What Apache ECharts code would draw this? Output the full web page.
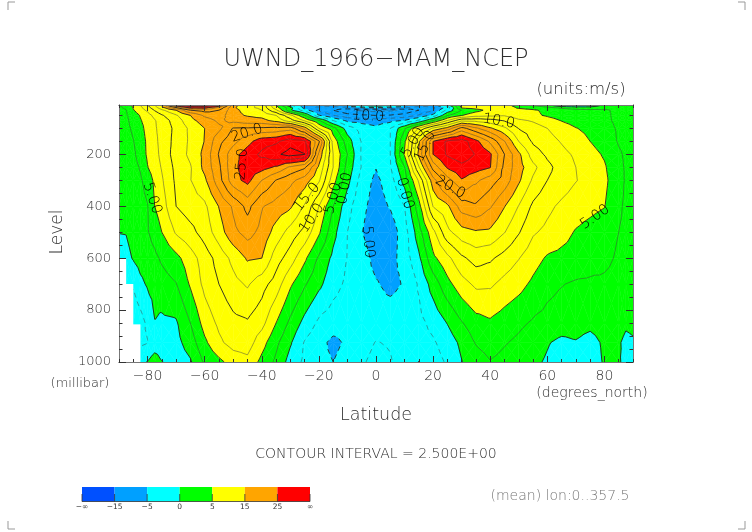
<!DOCTYPE html>
<html><head><meta charset="utf-8">
<style>html,body{margin:0;padding:0;background:#fff}#c{width:752px;height:532px}</style>
<script src="https://cdn.jsdelivr.net/npm/echarts@6/dist/echarts.min.js"></script>
</head><body><div id="c"></div>
<script>
const lats=[-90,-87.5,-85,-82.5,-80,-77.5,-75,-70,-65,-60,-55,-50,-45,-40,-35,-30,-25,-20,-15,-10,-5,0,5,10,15,20,25,30,35,40,45,50,55,60,65,70,75,80,85,87.5,90];
const levels=[1000,925,850,700,600,500,400,300,250,200,150,100,70,50,30,20,10];
const u1000=[-1,-1,-1,-0.5,0.1,1.5,0.1,-1.5,-0.3,2.9,4.4,6,6.8,4.3,2,-1,-3,-4.3,-5,-4,-2.8,-1.8,-2.3,-4,-5.05,-3.5,-2.2,-0.1,1.3,2.4,1.8,1.1,0.5,-0.3,-1.3,-1.3,-1.5,0.3,0.2,-0.5,-1];
const u925=[-3,-3,-3,-3,-2.6,-1.7,-1.5,-0.8,1.2,4.5,7,8.5,8.7,6,3.1,0.3,-2.7,-4.2,-5.6,-4.6,-3.4,-2.4,-2.7,-3.5,-3.5,-2.8,-1.4,0.6,2.7,3.5,2.7,2,1.1,0.2,-0.6,-0.2,-1.1,0.5,0.4,-0.9,-0.4];
const u850=[-3,-3,-4.5,-3.5,-2,-0.1,-0.5,-0.3,2.5,6,8,9.3,9.7,8.3,5,1.9,-0.8,-3,-3.8,-4.3,-4.2,-3.8,-3.7,-3.6,-3.2,-1.8,0.1,2.3,4,4.6,3.8,3,2.2,1.7,1.3,1.2,0.8,1.4,1.7,0.6,0.8];
const u700=[-2,-2.5,-2.2,-0.6,0.3,0.9,1.4,2.4,5.3,8.2,10,11.7,12.8,11,8.8,5.4,2.8,0.6,-1.6,-3,-4,-4.8,-5.6,-4.8,-2.2,1.1,4.2,6.5,8,7.9,6.7,5.8,4.5,3.2,2.6,2.2,2.1,2.1,1.8,1.6,1.6];
const u600=[-1,-0.8,0.2,1,1.4,1.9,2.9,4.3,6.4,8.7,11,13.2,15.3,15,11.2,8.7,5.5,2.1,-0.6,-2.6,-4,-5.7,-6,-3.8,-0.5,4.4,6.8,9.5,11,10.4,9,7.6,6,4.7,4.3,4,3.5,3,2.2,2,1.8];
const u500=[0.05,0.1,1,1.6,2.3,3.5,5,7.8,9.2,11.1,13.8,16.8,18.5,16.7,14,11.5,9.2,5.4,0.8,-2.5,-4.9,-6.5,-6.5,-3.6,1.4,6.8,11.8,14,14.7,14.5,12.6,10.2,7.8,6.9,5.9,4.8,4.1,3.4,2.5,2.2,2];
const u400=[0.8,1.1,1.4,1.7,2.4,5,6.3,10,11.3,12,15.1,17.9,20.8,17.7,16.5,15.4,12.2,7.5,2.5,-1.6,-4.4,-6,-4.8,-2.5,4,12.6,14.5,18.7,19.6,17.8,15.1,12.4,9.5,8.1,7,6.2,5.7,5.1,2.8,2.2,2];
const u300=[1,1.2,1.5,2.2,3.4,5.6,7.2,10.5,12.4,14.5,19,24,25.8,22.5,19.9,18.2,16.3,12.9,6,0.8,-3.6,-5.6,-3.7,1,7.9,16.5,21.5,24.8,23,21.2,18.9,15.4,12.1,10,8.8,7.6,6.7,5.6,3.2,2.3,2];
const u250=[1.2,1.4,1.7,2.7,4.9,6.3,7.7,10.7,12.3,15.7,19.5,24.4,26.2,26,24.6,22,20.4,14.5,7.5,1.6,-2.7,-4.9,-2.7,2.4,12.2,21,25.3,26.8,26.2,25.1,19.3,16,13.2,10.7,8.9,7.5,6.4,5.3,3,2.3,2];
const u200=[1.3,1.5,2,3.6,5.4,6.6,8.2,11.2,13,15.7,20.2,24,26.3,28,29.5,31,30.1,17,7.5,2.5,-2.8,-4.4,-2.5,5.3,15.7,25,27.9,29,27.3,25.4,20,15.5,11.3,9.5,8.2,7.1,5.9,4.7,2.8,2.2,2];
const u150=[1.2,1.5,2.4,3.7,5.5,6.9,8.3,10.9,12.9,15.1,19.3,21.7,24.1,26.5,27,29,28.2,20.5,6.5,1.2,-2.7,-4.2,-2.5,4.5,14.5,25,28,28.8,25.8,22,17.6,12.5,9.6,8.5,7.3,6.1,5,3.8,2.3,1.9,1.7];
const u100=[0.8,1.9,2.9,4.2,5.9,7.2,8.3,10.7,13,15,16.9,20.2,20.3,20.5,20.8,21.5,16.5,7.5,3.5,-1.2,-3.4,-4.4,-2.5,2.1,7.8,13,16,21,18,15.4,13,9.9,8.8,7.5,6.2,5.1,4.4,3.4,2.2,1.9,1.7];
const u70=[1.2,2,3.4,4.8,6,7.3,8.6,11.2,14.2,16.2,18,16.8,16,15.8,14.2,11.2,7.2,2.8,-2.5,-5.6,-6,-6.3,-5.7,-4.8,-2,2.6,7.6,12,11.8,11,9.8,8,7.2,6,4.9,4.1,3.6,3,2,1.7,1.5];
const u50=[1.5,2.2,3.6,5.2,6.5,8.2,9.7,12.2,15,18,19,15.6,14.8,14.2,12.5,8.2,2.8,-4.8,-7.5,-9,-9.6,-10,-9.8,-9,-7.2,-4.2,2.3,4.9,6.6,7,7.3,6,5.5,4.7,4,3.6,3.2,2.9,2,1.7,1.5];
const u30=[1.7,2.4,4.8,6.5,8,10.2,12,15,20,21,20,15.8,14,12.5,8,0.5,-3.7,-8.2,-10,-12,-13,-13.5,-13,-12,-10,-7.8,-1.7,2.6,4.2,5.8,6.8,6,5.3,4.5,3.6,3,2.8,2.7,2.2,1.8,1.5];
const u20=[2,3,5.2,7,9,11.5,14,20,26,26,22,15.5,13,12,6,1,-6,-8,-9,-8,-6,-5,-6,-7,-9,-8,-4,5.5,6,6.5,7,4.5,4,3,2,1.5,1.5,2,2,1.6,1.4];
const u10=[2.4,3.5,5.5,7.5,10,12.5,15.5,28,33,33,28,16,13,12,5,-2,-7,-6,-5,-4,1,3,1,-4,-5,-6,-1,6,6.5,6.5,6.5,3,2,0.5,-3,-4,-3.5,0.5,1.5,1.4,1.3];
const rows=[u1000,u925,u850,u700,u600,u500,u400,u300,u250,u200,u150,u100,u70,u50,u30,u20,u10];

const bandEdges=[-Infinity,-15,-5,0,5,15,25,Infinity];
const bandColors=['#0050ff','#00a0ff','#00ffff','#00ff00','#ffff00','#ffa500','#ff0000'];
const contourLevels=[-15,-12.5,-10,-7.5,-5,-2.5,0,2.5,5,7.5,10,12.5,15,17.5,20,22.5,25,27.5,30];
const legendLabels=['\u2212\u221e','\u221215','\u22125','0','5','15','25','\u221e'];

const missingLat=[-87.5,-85,-82.5];
const missingTop=[600,700,855];

const labelText=['5.00','20.0','25.0','15.0','10.0','5.00','0.00','5.00','10.0','5.00','15.0','10.0','20.0','0.00','5.00'];
const labelLat=[-78.4,-45.2,-47,-24.2,-22.4,-15,-10.9,-2.8,-2.8,13,17.2,43,26,10.1,76.7];
const labelLev=[369,119,238,365,446,369,331,538,54,154,169,73,327,350,442];
const labelRot=[-72,18,85,50,55,75,80,-85,-3,60,65,-10,-30,-75,35];

const xLabels=[-80,-60,-40,-20,0,20,40,60,80];
const yLabels=[200,400,600,800,1000];
const xMinor=[];for(let i=-18;i<=18;i++)xMinor.push(i*5);
const yMinor=[];for(let i=1;i<=20;i++)yMinor.push(i*50);

const TITLE='UWND_1966\u2212MAM_NCEP',UNITS='(units:m/s)',INTERVAL='CONTOUR INTERVAL = 2.500E+00',MEAN='(mean) lon:0..357.5',YUNIT='(millibar)',XUNIT='(degrees_north)';

function clip(poly,lv,keepAbove){
  const out=[];
  for(let i=0;i<poly.length;i++){
    const a=poly[i],b=poly[(i+1)%poly.length];
    const ia=keepAbove?a[2]>=lv:a[2]<=lv, ib=keepAbove?b[2]>=lv:b[2]<=lv;
    if(ia)out.push(a);
    if(ia!==ib){const t=(lv-a[2])/(b[2]-a[2]);out.push([a[0]+t*(b[0]-a[0]),a[1]+t*(b[1]-a[1]),lv]);}
  }
  return out;
}
const tris=[];
for(let j=0;j<levels.length-1;j++)for(let i=0;i<lats.length-1;i++){
  const A=[lats[i],levels[j],rows[j][i]],B=[lats[i+1],levels[j],rows[j][i+1]],C=[lats[i+1],levels[j+1],rows[j+1][i+1]],D=[lats[i],levels[j+1],rows[j+1][i]];
  const M=[(A[0]+B[0])/2,(A[1]+D[1])/2,(A[2]+B[2]+C[2]+D[2])/4];
  tris.push([A,B,M],[B,C,M],[C,D,M],[D,A,M]);
}
const fillPolys=[];
tris.forEach(t=>{
  for(let b=0;b<bandColors.length;b++){
    let p=t;
    if(isFinite(bandEdges[b]))p=clip(p,bandEdges[b],true);
    if(p.length>=3&&isFinite(bandEdges[b+1]))p=clip(p,bandEdges[b+1],false);
    if(p.length>=3)fillPolys.push({b,p});
  }
});
const contourLines=[];
contourLevels.forEach(L=>{
  const segs=[];const at=new Map();
  const k=q=>q[0].toFixed(5)+','+q[1].toFixed(4);
  tris.forEach(t=>{
    const pts=[];
    for(let i=0;i<3;i++){
      const a=t[i],b=t[(i+1)%3];const va=a[2]===L?L+1e-6:a[2],vb=b[2]===L?L+1e-6:b[2];
      if((va-L)*(vb-L)<0){const s=(L-va)/(vb-va);pts.push([a[0]+s*(b[0]-a[0]),a[1]+s*(b[1]-a[1])]);}
    }
    if(pts.length===2){const s={a:pts[0],b:pts[1],u:false};segs.push(s);
      [s.a,s.b].forEach(q=>{const key=k(q);if(!at.has(key))at.set(key,[]);at.get(key).push(s);});}
  });
  const next=(q,cur)=>(at.get(k(q))||[]).find(s=>s!==cur&&!s.u);
  segs.forEach(s=>{
    if(s.u)return;s.u=true;const line=[s.a,s.b];
    let cur=s,end=s.b;
    for(let n=next(end,cur);n;n=next(end,cur)){n.u=true;end=k(n.a)===k(end)?n.b:n.a;line.push(end);cur=n;}
    cur=s;end=s.a;
    for(let n=next(end,cur);n;n=next(end,cur)){n.u=true;end=k(n.a)===k(end)?n.b:n.a;line.unshift(end);cur=n;}
    contourLines.push({L,line});
  });
});

const FONT='"DejaVu Sans"',GRAY='#2e2e2e',WEIGHT=200;
const L=119,T=105,W=514,H=257;
function xAxisCfg(pos,values,len,labels){
  return {type:'value',min:-90,max:90,position:pos,z:10,splitLine:{show:false},
    axisLine:{show:true,onZero:false,lineStyle:{color:'#777',width:1}},
    axisTick:{show:true,inside:true,length:len,customValues:values,lineStyle:{color:'#333',width:1}},
    axisLabel:labels?{show:true,customValues:xLabels,margin:7,fontFamily:FONT,fontWeight:WEIGHT,fontSize:14,color:GRAY,formatter:v=>String(v).replace('-','\u2212')}:{show:false}};
}
function yAxisCfg(pos,values,len,labels){
  return {type:'value',min:10,max:1000,inverse:true,position:pos,z:10,splitLine:{show:false},
    axisLine:{show:true,onZero:false,lineStyle:{color:'#777',width:1}},
    axisTick:{show:true,inside:true,length:len,customValues:values,lineStyle:{color:'#333',width:1}},
    axisLabel:labels?{show:true,customValues:yLabels,margin:8,fontFamily:FONT,fontWeight:WEIGHT,fontSize:13,color:GRAY,formatter:v=>String(v)}:{show:false}};
}
function txt(x,y,text,size,extra){
  return {type:'text',x,y,silent:true,style:Object.assign({text,fontFamily:FONT,fontWeight:WEIGHT,fontSize:size,fill:GRAY,align:'center',verticalAlign:'middle'},extra||{})};
}
const graphics=[
  txt(376,60,TITLE,24),
  txt(581,90,UNITS,16.5),
  txt(376,415,'Latitude',17.5),
  Object.assign(txt(58,232,'Level',17),{rotation:Math.PI/2}),
  txt(80,384,YUNIT,13),
  txt(592,393,XUNIT,14),
  txt(376,454,INTERVAL,14),
  txt(560,496,MEAN,14,{fill:'#777'})
];
const lx=82,lw=228/bandColors.length;
bandColors.forEach((c,i)=>graphics.push({type:'rect',silent:true,shape:{x:lx+i*lw,y:487,width:lw,height:14.5},style:{fill:c}}));
legendLabels.forEach((t,i)=>{
  graphics.push(txt(lx+i*lw,507.5,t,7.5,{fill:'#333',fontWeight:400}));
  graphics.push({type:'line',silent:true,shape:{x1:lx+i*lw,y1:494,x2:lx+i*lw,y2:501.5},style:{stroke:'#333',lineWidth:0.8}});
});
graphics.push({type:'line',silent:true,shape:{x1:lx,y1:501.5,x2:lx+228,y2:501.5},style:{stroke:'#333',lineWidth:0.8}});
[[8,10,8,2,15,2],[738,2,745,2,745,10],[8,521,8,529,15,529],[738,529,745,529,745,521]].forEach(q=>
  graphics.push({type:'polyline',silent:true,shape:{points:[[q[0],q[1]],[q[2],q[3]],[q[4],q[5]]]},style:{stroke:'#999',fill:null,lineWidth:1}}));

const chart=echarts.init(document.getElementById('c'),null,{renderer:'canvas'});
chart.setOption({
  animation:false,backgroundColor:'#fff',
  grid:{left:L,top:T,width:W,height:H,containLabel:false},
  xAxis:[xAxisCfg('bottom',xLabels,6,true),xAxisCfg('bottom',xMinor,3,false),xAxisCfg('top',xLabels,6,false),xAxisCfg('top',xMinor,3,false)],
  yAxis:[yAxisCfg('left',yLabels,7,true),yAxisCfg('left',yMinor,3.5,false),yAxisCfg('right',yLabels,7,false),yAxisCfg('right',yMinor,3.5,false)],
  graphic:graphics,
  series:[
    {name:'filled',type:'custom',coordinateSystem:'cartesian2d',silent:true,z:2,progressive:0,clip:true,
     data:fillPolys.map(f=>[f.p[0][0],f.p[0][1]]),
     renderItem(params,api){const f=fillPolys[params.dataIndex];const c=bandColors[f.b];
       return {type:'polygon',shape:{points:f.p.map(q=>api.coord([q[0],q[1]]))},style:{fill:c,stroke:c,lineWidth:0.5}};}},
    {name:'contours',type:'custom',coordinateSystem:'cartesian2d',silent:true,z:3,progressive:0,clip:true,
     data:contourLines.map(c=>[c.line[0][0],c.line[0][1]]),
     renderItem(params,api){const c=contourLines[params.dataIndex];const major=c.L%5===0;
       return {type:'polyline',shape:{points:c.line.map(q=>api.coord(q))},
         style:{fill:null,stroke:major?'#222':'#444',lineWidth:major?0.9:0.5,lineDash:c.L<0?[5,4]:null}};}},
    {name:'missing',type:'custom',coordinateSystem:'cartesian2d',silent:true,z:4,progressive:0,clip:true,
     data:missingLat.map((v,i)=>[v,missingTop[i]]),
     renderItem(params,api){const a=api.coord([-90,api.value(1)]),b=api.coord([api.value(0),1000]);
       return {type:'rect',shape:{x:a[0],y:a[1],width:b[0]-a[0],height:b[1]-a[1]},style:{fill:'#fff'}};}},
    {name:'labels',type:'custom',coordinateSystem:'cartesian2d',silent:true,z:5,progressive:0,clip:false,
     data:labelText.map((t,i)=>[labelLat[i],labelLev[i]]),
     renderItem(params,api){const i=params.dataIndex;const p=api.coord([api.value(0),api.value(1)]);
       return {type:'text',x:p[0],y:p[1],rotation:labelRot[i]*Math.PI/180,
         style:{text:labelText[i],fontFamily:FONT,fontWeight:WEIGHT,fontSize:14.5,fill:'#000',align:'center',verticalAlign:'middle'}};}}
  ]
});
</script></body></html>
